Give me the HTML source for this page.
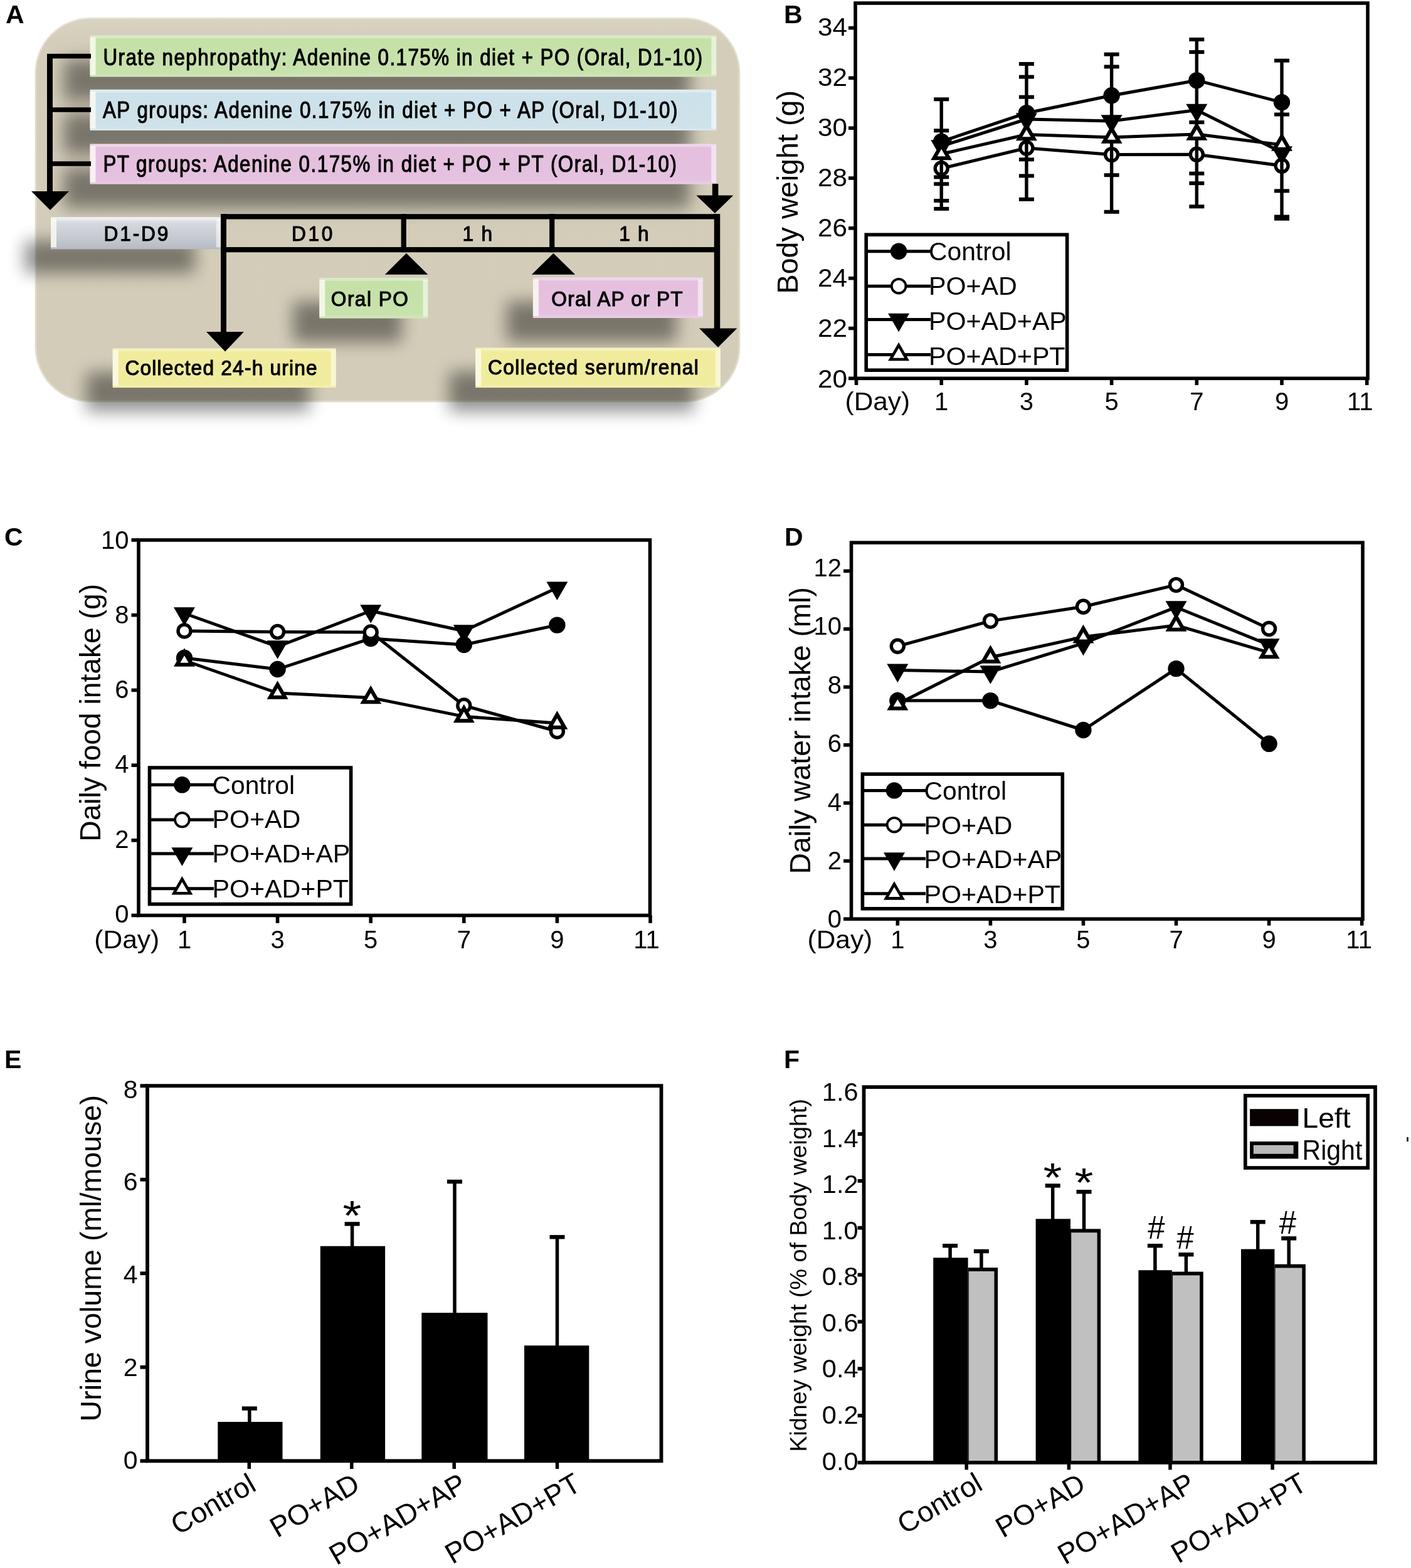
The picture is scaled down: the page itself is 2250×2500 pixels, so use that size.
<!DOCTYPE html>
<html><head><meta charset="utf-8"><title>Figure</title>
<style>html,body{margin:0;padding:0;background:#fff;width:2250px;height:2500px;overflow:hidden}svg{display:block}</style>
</head><body>
<svg width="2250" height="2500" viewBox="0 0 2250 2500" font-family='"Liberation Sans", Arial, Helvetica, sans-serif'>
<rect x="0" y="0" width="2250" height="2500" fill="#fff"/>
<defs>
<filter id="shA" filterUnits="userSpaceOnUse" x="0" y="0" width="1250" height="720">
 <feGaussianBlur in="SourceAlpha" stdDeviation="13.5"/>
 <feOffset dx="-42" dy="38" result="o"/>
 <feComponentTransfer><feFuncA type="linear" slope="0.43"/></feComponentTransfer>
</filter>
<filter id="shR" filterUnits="userSpaceOnUse" x="0" y="0" width="1250" height="720">
 <feGaussianBlur in="SourceAlpha" stdDeviation="9"/>
 <feOffset dx="6" dy="14"/>
 <feComponentTransfer><feFuncA type="linear" slope="0.35"/></feComponentTransfer>
</filter>
<linearGradient id="gGreen" x1="0" y1="0" x2="0" y2="1">
 <stop offset="0" stop-color="#d3e6bf"/><stop offset="0.09" stop-color="#c4e1a7"/><stop offset="0.9" stop-color="#c8e2ad"/><stop offset="1" stop-color="#d2e7bc"/>
</linearGradient>
<linearGradient id="gBlue" x1="0" y1="0" x2="0" y2="1">
 <stop offset="0" stop-color="#dbe8ee"/><stop offset="0.09" stop-color="#cce1ea"/><stop offset="0.9" stop-color="#cfe2ea"/><stop offset="1" stop-color="#d9e8ee"/>
</linearGradient>
<linearGradient id="gPink" x1="0" y1="0" x2="0" y2="1">
 <stop offset="0" stop-color="#ecd3ea"/><stop offset="0.09" stop-color="#e4bfde"/><stop offset="0.9" stop-color="#e5c2df"/><stop offset="1" stop-color="#ebcfe7"/>
</linearGradient>
<linearGradient id="gYellow" x1="0" y1="0" x2="0" y2="1">
 <stop offset="0" stop-color="#f4f1b2"/><stop offset="0.09" stop-color="#f1ec9c"/><stop offset="0.9" stop-color="#f0ec9e"/><stop offset="1" stop-color="#f3f0ae"/>
</linearGradient>
<linearGradient id="gGray" x1="0" y1="0" x2="0" y2="1">
 <stop offset="0" stop-color="#eef0f3"/><stop offset="0.18" stop-color="#d6d9df"/><stop offset="0.7" stop-color="#c3c7cf"/><stop offset="1" stop-color="#b6bac3"/>
</linearGradient>
<linearGradient id="gBg" x1="0" y1="0" x2="0" y2="1">
 <stop offset="0" stop-color="#d9d3c3"/><stop offset="0.06" stop-color="#d4cdba"/><stop offset="1" stop-color="#d3ccb9"/>
</linearGradient>
</defs>
<rect x="56" y="29" width="1124" height="612" rx="88" ry="88" fill="url(#gBg)"/>
<rect x="57" y="29" width="1122" height="611" rx="87" ry="87" fill="none" stroke="#e6e1d3" stroke-width="3" opacity="0.7"/>
<rect x="143.5" y="56.5" width="998.8" height="66" fill="#000" filter="url(#shA)"/>
<rect x="143.5" y="142.8" width="998.8" height="65.2" fill="#000" filter="url(#shA)"/>
<rect x="143.5" y="229.5" width="998.8" height="64.1" fill="#000" filter="url(#shA)"/>
<rect x="81" y="346.2" width="271.7" height="51.1" fill="#000" filter="url(#shA)"/>
<rect x="509.3" y="443" width="173.1" height="64.6" fill="#000" filter="url(#shA)"/>
<rect x="849.9" y="442.4" width="271" height="64.6" fill="#000" filter="url(#shA)"/>
<rect x="179.7" y="555.5" width="356" height="62.6" fill="#000" filter="url(#shA)"/>
<rect x="758.2" y="554.5" width="390.7" height="63.6" fill="#000" filter="url(#shA)"/>
<rect x="143.5" y="56.5" width="998.8" height="66" fill="url(#gGreen)"/>
<rect x="143.5" y="56.5" width="998.8" height="5" fill="#ffffff" opacity="0.22"/>
<rect x="143.5" y="59.5" width="9" height="60" fill="#fbfcf2" opacity="0.8"/>
<rect x="1134.3" y="59.5" width="8" height="60" fill="#ffffff" opacity="0.55"/>
<rect x="143.5" y="142.8" width="998.8" height="65.2" fill="url(#gBlue)"/>
<rect x="143.5" y="142.8" width="998.8" height="5" fill="#ffffff" opacity="0.22"/>
<rect x="143.5" y="145.8" width="9" height="59.2" fill="#fbfcf2" opacity="0.8"/>
<rect x="1134.3" y="145.8" width="8" height="59.2" fill="#ffffff" opacity="0.55"/>
<rect x="143.5" y="229.5" width="998.8" height="64.1" fill="url(#gPink)"/>
<rect x="143.5" y="229.5" width="998.8" height="5" fill="#ffffff" opacity="0.22"/>
<rect x="143.5" y="232.5" width="9" height="58.1" fill="#fbfcf2" opacity="0.8"/>
<rect x="1134.3" y="232.5" width="8" height="58.1" fill="#ffffff" opacity="0.55"/>
<rect x="81" y="346.2" width="271.7" height="51.1" fill="url(#gGray)"/>
<rect x="81" y="346.2" width="271.7" height="5" fill="#ffffff" opacity="0.22"/>
<rect x="81" y="349.2" width="9" height="45.1" fill="#fbfcf2" opacity="0.8"/>
<rect x="344.7" y="349.2" width="8" height="45.1" fill="#ffffff" opacity="0.55"/>
<rect x="509.3" y="443" width="173.1" height="64.6" fill="url(#gGreen)"/>
<rect x="509.3" y="443" width="173.1" height="5" fill="#ffffff" opacity="0.22"/>
<rect x="509.3" y="446" width="9" height="58.6" fill="#fbfcf2" opacity="0.8"/>
<rect x="674.4" y="446" width="8" height="58.6" fill="#ffffff" opacity="0.55"/>
<rect x="849.9" y="442.4" width="271" height="64.6" fill="url(#gPink)"/>
<rect x="849.9" y="442.4" width="271" height="5" fill="#ffffff" opacity="0.22"/>
<rect x="849.9" y="445.4" width="9" height="58.6" fill="#fbfcf2" opacity="0.8"/>
<rect x="1112.9" y="445.4" width="8" height="58.6" fill="#ffffff" opacity="0.55"/>
<rect x="179.7" y="555.5" width="356" height="62.6" fill="url(#gYellow)"/>
<rect x="179.7" y="555.5" width="356" height="5" fill="#ffffff" opacity="0.22"/>
<rect x="179.7" y="558.5" width="9" height="56.6" fill="#fbfcf2" opacity="0.8"/>
<rect x="527.7" y="558.5" width="8" height="56.6" fill="#ffffff" opacity="0.55"/>
<rect x="758.2" y="554.5" width="390.7" height="63.6" fill="url(#gYellow)"/>
<rect x="758.2" y="554.5" width="390.7" height="5" fill="#ffffff" opacity="0.22"/>
<rect x="758.2" y="557.5" width="9" height="57.6" fill="#fbfcf2" opacity="0.8"/>
<rect x="1140.9" y="557.5" width="8" height="57.6" fill="#ffffff" opacity="0.55"/>
<line x1="79.5" y1="86" x2="79.5" y2="306" stroke="#000" stroke-width="9" />
<line x1="75" y1="89.5" x2="145" y2="89.5" stroke="#000" stroke-width="7.5" />
<line x1="79.5" y1="175" x2="145" y2="175" stroke="#000" stroke-width="7.5" />
<line x1="79.5" y1="261" x2="145" y2="261" stroke="#000" stroke-width="7.5" />
<polygon points="50,305 110,305 80,335" fill="#000" />
<line x1="1140.6" y1="293" x2="1140.6" y2="312" stroke="#000" stroke-width="9.5" />
<polygon points="1110.3,311.5 1169.3,311.5 1140,340" fill="#000" />
<line x1="352" y1="345.3" x2="1147" y2="345.3" stroke="#000" stroke-width="8.2" />
<line x1="352" y1="398.1" x2="1147" y2="398.1" stroke="#000" stroke-width="8.2" />
<line x1="356.5" y1="341.2" x2="356.5" y2="531" stroke="#000" stroke-width="9" />
<line x1="643.7" y1="341.2" x2="643.7" y2="402.2" stroke="#000" stroke-width="8.2" />
<line x1="880.2" y1="341.2" x2="880.2" y2="402.2" stroke="#000" stroke-width="8.2" />
<line x1="1143.5" y1="341.2" x2="1143.5" y2="526" stroke="#000" stroke-width="9.5" />
<polygon points="329,529 389,529 359,560.4" fill="#000" />
<polygon points="1115,523.5 1175.3,523.5 1145,553.8" fill="#000" />
<polygon points="613.8,437.8 682.4,437.8 648,403.8" fill="#000" />
<polygon points="847.9,437.8 917.1,437.8 882.5,403.8" fill="#000" />
<text x="0" y="0" font-size="36" textLength="1098.39" lengthAdjust="spacing" transform="translate(164.5,104) scale(0.87,1)" stroke="#000" stroke-width="1.1">Urate nephropathy: Adenine 0.175% in diet + PO (Oral, D1-10)</text>
<text x="0" y="0" font-size="36" textLength="1053.56" lengthAdjust="spacing" transform="translate(163.9,188) scale(0.87,1)" stroke="#000" stroke-width="1.1">AP groups: Adenine 0.175% in diet + PO + AP (Oral, D1-10)</text>
<text x="0" y="0" font-size="36" textLength="1051.15" lengthAdjust="spacing" transform="translate(164.4,273.6) scale(0.87,1)" stroke="#000" stroke-width="1.1">PT groups: Adenine 0.175% in diet + PO + PT (Oral, D1-10)</text>
<text x="0" y="0" font-size="33" textLength="107.19" lengthAdjust="spacing" transform="translate(165.5,384) scale(0.96,1)" stroke="#000" stroke-width="1.1">D1-D9</text>
<text x="0" y="0" font-size="33" textLength="68.33" lengthAdjust="spacing" transform="translate(464.9,384) scale(0.96,1)" stroke="#000" stroke-width="1.1">D10</text>
<text x="0" y="0" font-size="33" textLength="49.69" lengthAdjust="spacing" transform="translate(737.5,384) scale(0.96,1)" stroke="#000" stroke-width="1.1">1 h</text>
<text x="0" y="0" font-size="33" textLength="49.48" lengthAdjust="spacing" transform="translate(987.2,384) scale(0.96,1)" stroke="#000" stroke-width="1.1">1 h</text>
<text x="0" y="0" font-size="33" textLength="128.23" lengthAdjust="spacing" transform="translate(527.8,487.8) scale(0.96,1)" stroke="#000" stroke-width="1.1">Oral PO</text>
<text x="0" y="0" font-size="33" textLength="218.02" lengthAdjust="spacing" transform="translate(879.3,487.9) scale(0.96,1)" stroke="#000" stroke-width="1.1">Oral AP or PT</text>
<text x="0" y="0" font-size="33" textLength="319.06" lengthAdjust="spacing" transform="translate(199.4,598.4) scale(0.96,1)" stroke="#000" stroke-width="1.1">Collected 24-h urine</text>
<text x="0" y="0" font-size="33" textLength="349.69" lengthAdjust="spacing" transform="translate(778.1,596.7) scale(0.96,1)" stroke="#000" stroke-width="1.1">Collected serum/renal</text>
<text x="9" y="37" font-size="41" font-weight="bold">A</text>
<polyline points="1501.2,225.6 1636.9,180.2 1772.6,152.3 1908.3,128.2 2044,163.1" fill="none" stroke="#000" stroke-width="5" stroke-linejoin="round"/>
<polyline points="1501.2,268.6 1636.9,236 1772.6,246.6 1908.3,246.2 2044,264.2" fill="none" stroke="#000" stroke-width="5" stroke-linejoin="round"/>
<polyline points="1501.2,233 1636.9,190 1772.6,193 1908.3,175.5 2044,243" fill="none" stroke="#000" stroke-width="5" stroke-linejoin="round"/>
<polyline points="1501.2,245.5 1636.9,214.5 1772.6,218.9 1908.3,214 2044,231" fill="none" stroke="#000" stroke-width="5" stroke-linejoin="round"/>
<circle cx="1501.2" cy="225.6" r="13.2" fill="#000"/>
<circle cx="1636.9" cy="180.2" r="13.2" fill="#000"/>
<circle cx="1772.6" cy="152.3" r="13.2" fill="#000"/>
<circle cx="1908.3" cy="128.2" r="13.2" fill="#000"/>
<circle cx="2044" cy="163.1" r="13.2" fill="#000"/>
<circle cx="1501.2" cy="268.6" r="10" fill="#fff" stroke="#000" stroke-width="5.4"/>
<circle cx="1636.9" cy="236" r="10" fill="#fff" stroke="#000" stroke-width="5.4"/>
<circle cx="1772.6" cy="246.6" r="10" fill="#fff" stroke="#000" stroke-width="5.4"/>
<circle cx="1908.3" cy="246.2" r="10" fill="#fff" stroke="#000" stroke-width="5.4"/>
<circle cx="2044" cy="264.2" r="10" fill="#fff" stroke="#000" stroke-width="5.4"/>
<line x1="1501.2" y1="158.3" x2="1501.2" y2="332.9" stroke="#000" stroke-width="5.4" />
<rect x="1489.2" y="155.3" width="24" height="6" fill="#000" />
<rect x="1489.2" y="205.2" width="24" height="6" fill="#000" />
<rect x="1489.2" y="279.4" width="24" height="6" fill="#000" />
<rect x="1489.2" y="290.3" width="24" height="6" fill="#000" />
<rect x="1489.2" y="317" width="24" height="6" fill="#000" />
<rect x="1489.2" y="329.9" width="24" height="6" fill="#000" />
<line x1="1636.9" y1="101.9" x2="1636.9" y2="317.8" stroke="#000" stroke-width="5.4" />
<rect x="1624.9" y="98.9" width="24" height="6" fill="#000" />
<rect x="1624.9" y="119.6" width="24" height="6" fill="#000" />
<rect x="1624.9" y="151.7" width="24" height="6" fill="#000" />
<rect x="1624.9" y="251.3" width="24" height="6" fill="#000" />
<rect x="1624.9" y="277.4" width="24" height="6" fill="#000" />
<rect x="1624.9" y="314.8" width="24" height="6" fill="#000" />
<line x1="1772.6" y1="86.6" x2="1772.6" y2="337.8" stroke="#000" stroke-width="5.4" />
<rect x="1760.6" y="83.6" width="24" height="6" fill="#000" />
<rect x="1760.6" y="103.4" width="24" height="6" fill="#000" />
<rect x="1760.6" y="276.2" width="24" height="6" fill="#000" />
<rect x="1760.6" y="334.8" width="24" height="6" fill="#000" />
<line x1="1908.3" y1="62.9" x2="1908.3" y2="329.3" stroke="#000" stroke-width="5.4" />
<rect x="1896.3" y="59.9" width="24" height="6" fill="#000" />
<rect x="1896.3" y="80" width="24" height="6" fill="#000" />
<rect x="1896.3" y="192" width="24" height="6" fill="#000" />
<rect x="1896.3" y="273.6" width="24" height="6" fill="#000" />
<rect x="1896.3" y="289.2" width="24" height="6" fill="#000" />
<rect x="1896.3" y="326.3" width="24" height="6" fill="#000" />
<line x1="2044" y1="96.6" x2="2044" y2="348.7" stroke="#000" stroke-width="5.4" />
<rect x="2032" y="93.6" width="24" height="6" fill="#000" />
<rect x="2032" y="179.5" width="24" height="6" fill="#000" />
<rect x="2032" y="301.4" width="24" height="6" fill="#000" />
<rect x="2032" y="342.5" width="24" height="6" fill="#000" />
<rect x="2032" y="345.7" width="24" height="6" fill="#000" />
<polygon points="1484.2,223.13 1518.2,223.13 1501.2,252.73" fill="#000" />
<polygon points="1619.9,180.13 1653.9,180.13 1636.9,209.73" fill="#000" />
<polygon points="1755.6,183.13 1789.6,183.13 1772.6,212.73" fill="#000" />
<polygon points="1891.3,165.63 1925.3,165.63 1908.3,195.23" fill="#000" />
<polygon points="2027,233.13 2061,233.13 2044,262.73" fill="#000" />
<polygon points="1484.2,255.37 1518.2,255.37 1501.2,225.77" fill="#000" />
<polygon points="1494.57,249.37 1507.83,249.37 1501.2,237.81" fill="#fff" />
<polygon points="1619.9,224.37 1653.9,224.37 1636.9,194.77" fill="#000" />
<polygon points="1630.27,218.37 1643.53,218.37 1636.9,206.81" fill="#fff" />
<polygon points="1755.6,228.77 1789.6,228.77 1772.6,199.17" fill="#000" />
<polygon points="1765.97,222.77 1779.23,222.77 1772.6,211.21" fill="#fff" />
<polygon points="1891.3,223.87 1925.3,223.87 1908.3,194.27" fill="#000" />
<polygon points="1901.67,217.87 1914.93,217.87 1908.3,206.31" fill="#fff" />
<polygon points="2027,240.87 2061,240.87 2044,211.27" fill="#000" />
<polygon points="2037.37,234.87 2050.63,234.87 2044,223.31" fill="#fff" />
<rect x="1364" y="5" width="817" height="598.3" fill="none" stroke="#000" stroke-width="5.6"/>
<line x1="1353" y1="603.3" x2="1364" y2="603.3" stroke="#000" stroke-width="5.6" />
<text x="1351" y="617.5" font-size="40" text-anchor="end" textLength="47" lengthAdjust="spacingAndGlyphs">20</text>
<line x1="1353" y1="523.48" x2="1364" y2="523.48" stroke="#000" stroke-width="5.6" />
<text x="1351" y="537.44" font-size="40" text-anchor="end" textLength="47" lengthAdjust="spacingAndGlyphs">22</text>
<line x1="1353" y1="443.66" x2="1364" y2="443.66" stroke="#000" stroke-width="5.6" />
<text x="1351" y="457.38" font-size="40" text-anchor="end" textLength="47" lengthAdjust="spacingAndGlyphs">24</text>
<line x1="1353" y1="363.84" x2="1364" y2="363.84" stroke="#000" stroke-width="5.6" />
<text x="1351" y="377.32" font-size="40" text-anchor="end" textLength="47" lengthAdjust="spacingAndGlyphs">26</text>
<line x1="1353" y1="284.02" x2="1364" y2="284.02" stroke="#000" stroke-width="5.6" />
<text x="1351" y="297.26" font-size="40" text-anchor="end" textLength="47" lengthAdjust="spacingAndGlyphs">28</text>
<line x1="1353" y1="204.2" x2="1364" y2="204.2" stroke="#000" stroke-width="5.6" />
<text x="1351" y="217.2" font-size="40" text-anchor="end" textLength="47" lengthAdjust="spacingAndGlyphs">30</text>
<line x1="1353" y1="124.38" x2="1364" y2="124.38" stroke="#000" stroke-width="5.6" />
<text x="1351" y="137.14" font-size="40" text-anchor="end" textLength="47" lengthAdjust="spacingAndGlyphs">32</text>
<line x1="1353" y1="44.56" x2="1364" y2="44.56" stroke="#000" stroke-width="5.6" />
<text x="1351" y="57.08" font-size="40" text-anchor="end" textLength="47" lengthAdjust="spacingAndGlyphs">34</text>
<line x1="1365.5" y1="603.3" x2="1365.5" y2="614" stroke="#000" stroke-width="5.6" />
<line x1="1501.2" y1="603.3" x2="1501.2" y2="614" stroke="#000" stroke-width="5.6" />
<text x="1501.2" y="654" font-size="40" text-anchor="middle">1</text>
<line x1="1636.9" y1="603.3" x2="1636.9" y2="614" stroke="#000" stroke-width="5.6" />
<text x="1636.9" y="654" font-size="40" text-anchor="middle">3</text>
<line x1="1772.6" y1="603.3" x2="1772.6" y2="614" stroke="#000" stroke-width="5.6" />
<text x="1772.6" y="654" font-size="40" text-anchor="middle">5</text>
<line x1="1908.3" y1="603.3" x2="1908.3" y2="614" stroke="#000" stroke-width="5.6" />
<text x="1908.3" y="654" font-size="40" text-anchor="middle">7</text>
<line x1="2044" y1="603.3" x2="2044" y2="614" stroke="#000" stroke-width="5.6" />
<text x="2044" y="654" font-size="40" text-anchor="middle">9</text>
<line x1="2179.7" y1="603.3" x2="2179.7" y2="614" stroke="#000" stroke-width="5.6" />
<text x="2168.7" y="654" font-size="40" text-anchor="middle">11</text>
<text x="1347.6" y="654" font-size="40" textLength="103.4" lengthAdjust="spacingAndGlyphs">(Day)</text>
<text x="0" y="0" font-size="46" text-anchor="middle" textLength="324.7" lengthAdjust="spacingAndGlyphs" transform="translate(1272.3,306.2) rotate(-90)">Body weight (g)</text>
<text x="1250" y="37" font-size="41" font-weight="bold">B</text>
<rect x="1381.2" y="374.2" width="320.4" height="216" fill="#fff" stroke="#000" stroke-width="5.6"/>
<line x1="1381.2" y1="400.7" x2="1484" y2="400.7" stroke="#000" stroke-width="5" />
<circle cx="1433.1" cy="400.7" r="13.2" fill="#000"/>
<text x="1481" y="414.5" font-size="40" textLength="131.5" lengthAdjust="spacingAndGlyphs">Control</text>
<line x1="1381.2" y1="456.2" x2="1484" y2="456.2" stroke="#000" stroke-width="5" />
<circle cx="1433.1" cy="456.2" r="11.3" fill="#fff" stroke="#000" stroke-width="3.8"/>
<text x="1481" y="470.2" font-size="40" textLength="140.82" lengthAdjust="spacingAndGlyphs">PO+AD</text>
<line x1="1381.2" y1="509.5" x2="1484" y2="509.5" stroke="#000" stroke-width="5" />
<polygon points="1416.1,499.63 1450.1,499.63 1433.1,529.23" fill="#000" />
<text x="1481" y="526.3" font-size="40" textLength="219.84" lengthAdjust="spacingAndGlyphs">PO+AD+AP</text>
<line x1="1381.2" y1="565.5" x2="1484" y2="565.5" stroke="#000" stroke-width="5" />
<polygon points="1416.1,575.37 1450.1,575.37 1433.1,545.77" fill="#000" />
<polygon points="1424.05,570.77 1442.15,570.77 1433.1,555" fill="#fff" />
<text x="1481" y="582.3" font-size="40" textLength="217.54" lengthAdjust="spacingAndGlyphs">PO+AD+PT</text>
<polyline points="294,1049 442.6,1067 591.2,1018 739.8,1028 888.4,996.6" fill="none" stroke="#000" stroke-width="5" stroke-linejoin="round"/>
<polyline points="294,1006 442.6,1007.4 591.2,1008 739.8,1125 888.4,1166" fill="none" stroke="#000" stroke-width="5" stroke-linejoin="round"/>
<polyline points="294,978 442.6,1031 591.2,974 739.8,1006 888.4,937.3" fill="none" stroke="#000" stroke-width="5" stroke-linejoin="round"/>
<polyline points="294,1053 442.6,1105 591.2,1112.4 739.8,1142.4 888.4,1153" fill="none" stroke="#000" stroke-width="5" stroke-linejoin="round"/>
<circle cx="294" cy="1049" r="13.2" fill="#000"/>
<circle cx="442.6" cy="1067" r="13.2" fill="#000"/>
<circle cx="591.2" cy="1018" r="13.2" fill="#000"/>
<circle cx="739.8" cy="1028" r="13.2" fill="#000"/>
<circle cx="888.4" cy="996.6" r="13.2" fill="#000"/>
<circle cx="294" cy="1006" r="10" fill="#fff" stroke="#000" stroke-width="5.4"/>
<circle cx="442.6" cy="1007.4" r="10" fill="#fff" stroke="#000" stroke-width="5.4"/>
<circle cx="591.2" cy="1008" r="10" fill="#fff" stroke="#000" stroke-width="5.4"/>
<circle cx="739.8" cy="1125" r="10" fill="#fff" stroke="#000" stroke-width="5.4"/>
<circle cx="888.4" cy="1166" r="10" fill="#fff" stroke="#000" stroke-width="5.4"/>
<polygon points="277,968.13 311,968.13 294,997.73" fill="#000" />
<polygon points="425.6,1021.13 459.6,1021.13 442.6,1050.73" fill="#000" />
<polygon points="574.2,964.13 608.2,964.13 591.2,993.73" fill="#000" />
<polygon points="722.8,996.13 756.8,996.13 739.8,1025.73" fill="#000" />
<polygon points="871.4,927.43 905.4,927.43 888.4,957.03" fill="#000" />
<polygon points="277,1062.87 311,1062.87 294,1033.27" fill="#000" />
<polygon points="287.37,1056.87 300.63,1056.87 294,1045.31" fill="#fff" />
<polygon points="425.6,1114.87 459.6,1114.87 442.6,1085.27" fill="#000" />
<polygon points="435.97,1108.87 449.23,1108.87 442.6,1097.31" fill="#fff" />
<polygon points="574.2,1122.27 608.2,1122.27 591.2,1092.67" fill="#000" />
<polygon points="584.57,1116.27 597.83,1116.27 591.2,1104.71" fill="#fff" />
<polygon points="722.8,1152.27 756.8,1152.27 739.8,1122.67" fill="#000" />
<polygon points="733.17,1146.27 746.43,1146.27 739.8,1134.71" fill="#fff" />
<polygon points="871.4,1162.87 905.4,1162.87 888.4,1133.27" fill="#000" />
<polygon points="881.77,1156.87 895.03,1156.87 888.4,1145.31" fill="#fff" />
<rect x="221" y="861" width="815.5" height="598.5" fill="none" stroke="#000" stroke-width="5.6"/>
<line x1="209.5" y1="1459.5" x2="221" y2="1459.5" stroke="#000" stroke-width="5.6" />
<text x="205.5" y="1470.9" font-size="40" text-anchor="end">0</text>
<line x1="209.5" y1="1339.8" x2="221" y2="1339.8" stroke="#000" stroke-width="5.6" />
<text x="205.5" y="1351.66" font-size="40" text-anchor="end">2</text>
<line x1="209.5" y1="1220.1" x2="221" y2="1220.1" stroke="#000" stroke-width="5.6" />
<text x="205.5" y="1232.42" font-size="40" text-anchor="end">4</text>
<line x1="209.5" y1="1100.4" x2="221" y2="1100.4" stroke="#000" stroke-width="5.6" />
<text x="205.5" y="1113.18" font-size="40" text-anchor="end">6</text>
<line x1="209.5" y1="980.7" x2="221" y2="980.7" stroke="#000" stroke-width="5.6" />
<text x="205.5" y="993.94" font-size="40" text-anchor="end">8</text>
<line x1="209.5" y1="861" x2="221" y2="861" stroke="#000" stroke-width="5.6" />
<text x="205.5" y="874.7" font-size="40" text-anchor="end">10</text>
<line x1="294" y1="1459.5" x2="294" y2="1471.8" stroke="#000" stroke-width="5.6" />
<text x="294" y="1512" font-size="40" text-anchor="middle">1</text>
<line x1="442.6" y1="1459.5" x2="442.6" y2="1471.8" stroke="#000" stroke-width="5.6" />
<text x="442.6" y="1512" font-size="40" text-anchor="middle">3</text>
<line x1="591.2" y1="1459.5" x2="591.2" y2="1471.8" stroke="#000" stroke-width="5.6" />
<text x="591.2" y="1512" font-size="40" text-anchor="middle">5</text>
<line x1="739.8" y1="1459.5" x2="739.8" y2="1471.8" stroke="#000" stroke-width="5.6" />
<text x="739.8" y="1512" font-size="40" text-anchor="middle">7</text>
<line x1="888.4" y1="1459.5" x2="888.4" y2="1471.8" stroke="#000" stroke-width="5.6" />
<text x="888.4" y="1512" font-size="40" text-anchor="middle">9</text>
<line x1="1037" y1="1459.5" x2="1037" y2="1471.8" stroke="#000" stroke-width="5.6" />
<text x="1031" y="1512" font-size="40" text-anchor="middle">11</text>
<text x="150.3" y="1512" font-size="40" textLength="103.9" lengthAdjust="spacingAndGlyphs">(Day)</text>
<text x="0" y="0" font-size="45.5" text-anchor="middle" textLength="410.8" lengthAdjust="spacingAndGlyphs" transform="translate(159.9,1136.3) rotate(-90)">Daily food intake (g)</text>
<text x="7" y="870.3" font-size="41" font-weight="bold">C</text>
<rect x="238.5" y="1224" width="321.1" height="217.5" fill="#fff" stroke="#000" stroke-width="5.6"/>
<line x1="238.5" y1="1251.3" x2="341" y2="1251.3" stroke="#000" stroke-width="5" />
<circle cx="290.4" cy="1251.3" r="13.2" fill="#000"/>
<text x="338.5" y="1266.2" font-size="40" textLength="131.5" lengthAdjust="spacingAndGlyphs">Control</text>
<line x1="238.5" y1="1307.1" x2="341" y2="1307.1" stroke="#000" stroke-width="5" />
<circle cx="290.4" cy="1307.1" r="11.3" fill="#fff" stroke="#000" stroke-width="3.8"/>
<text x="338.5" y="1320" font-size="40" textLength="140.82" lengthAdjust="spacingAndGlyphs">PO+AD</text>
<line x1="238.5" y1="1361" x2="341" y2="1361" stroke="#000" stroke-width="5" />
<polygon points="273.4,1351.13 307.4,1351.13 290.4,1380.73" fill="#000" />
<text x="338.5" y="1375.4" font-size="40" textLength="219.84" lengthAdjust="spacingAndGlyphs">PO+AD+AP</text>
<line x1="238.5" y1="1416.7" x2="341" y2="1416.7" stroke="#000" stroke-width="5" />
<polygon points="273.4,1426.57 307.4,1426.57 290.4,1396.97" fill="#000" />
<polygon points="281.35,1421.97 299.45,1421.97 290.4,1406.2" fill="#fff" />
<text x="338.5" y="1431.2" font-size="40" textLength="217.54" lengthAdjust="spacingAndGlyphs">PO+AD+PT</text>
<polyline points="1431.33,1117 1579.39,1117.1 1727.45,1164 1875.51,1066.1 2023.57,1185.8" fill="none" stroke="#000" stroke-width="5" stroke-linejoin="round"/>
<polyline points="1431.33,1030.3 1579.39,990.1 1727.45,967.2 1875.51,932.6 2023.57,1002.5" fill="none" stroke="#000" stroke-width="5" stroke-linejoin="round"/>
<polyline points="1431.33,1068.4 1579.39,1071.1 1727.45,1025.7 1875.51,968.2 2023.57,1028.2" fill="none" stroke="#000" stroke-width="5" stroke-linejoin="round"/>
<polyline points="1431.33,1122.6 1579.39,1048 1727.45,1015.6 1875.51,996.9 2023.57,1040.4" fill="none" stroke="#000" stroke-width="5" stroke-linejoin="round"/>
<circle cx="1431.33" cy="1117" r="13.2" fill="#000"/>
<circle cx="1579.39" cy="1117.1" r="13.2" fill="#000"/>
<circle cx="1727.45" cy="1164" r="13.2" fill="#000"/>
<circle cx="1875.51" cy="1066.1" r="13.2" fill="#000"/>
<circle cx="2023.57" cy="1185.8" r="13.2" fill="#000"/>
<circle cx="1431.33" cy="1030.3" r="10" fill="#fff" stroke="#000" stroke-width="5.4"/>
<circle cx="1579.39" cy="990.1" r="10" fill="#fff" stroke="#000" stroke-width="5.4"/>
<circle cx="1727.45" cy="967.2" r="10" fill="#fff" stroke="#000" stroke-width="5.4"/>
<circle cx="1875.51" cy="932.6" r="10" fill="#fff" stroke="#000" stroke-width="5.4"/>
<circle cx="2023.57" cy="1002.5" r="10" fill="#fff" stroke="#000" stroke-width="5.4"/>
<polygon points="1414.33,1058.53 1448.33,1058.53 1431.33,1088.13" fill="#000" />
<polygon points="1562.39,1061.23 1596.39,1061.23 1579.39,1090.83" fill="#000" />
<polygon points="1710.45,1015.83 1744.45,1015.83 1727.45,1045.43" fill="#000" />
<polygon points="1858.51,958.33 1892.51,958.33 1875.51,987.93" fill="#000" />
<polygon points="2006.57,1018.33 2040.57,1018.33 2023.57,1047.93" fill="#000" />
<polygon points="1414.33,1132.47 1448.33,1132.47 1431.33,1102.87" fill="#000" />
<polygon points="1424.7,1126.47 1437.96,1126.47 1431.33,1114.91" fill="#fff" />
<polygon points="1562.39,1057.87 1596.39,1057.87 1579.39,1028.27" fill="#000" />
<polygon points="1572.76,1051.87 1586.02,1051.87 1579.39,1040.31" fill="#fff" />
<polygon points="1710.45,1025.47 1744.45,1025.47 1727.45,995.87" fill="#000" />
<polygon points="1720.82,1019.47 1734.08,1019.47 1727.45,1007.91" fill="#fff" />
<polygon points="1858.51,1006.77 1892.51,1006.77 1875.51,977.17" fill="#000" />
<polygon points="1868.88,1000.77 1882.14,1000.77 1875.51,989.21" fill="#fff" />
<polygon points="2006.57,1050.27 2040.57,1050.27 2023.57,1020.67" fill="#000" />
<polygon points="2016.94,1044.27 2030.2,1044.27 2023.57,1032.71" fill="#fff" />
<rect x="1357.5" y="865.2" width="815.5" height="600" fill="none" stroke="#000" stroke-width="5.6"/>
<line x1="1345" y1="1465.2" x2="1357.5" y2="1465.2" stroke="#000" stroke-width="5.6" />
<text x="1342" y="1479.3" font-size="40" text-anchor="end">0</text>
<line x1="1345" y1="1372.74" x2="1357.5" y2="1372.74" stroke="#000" stroke-width="5.6" />
<text x="1342" y="1385.9" font-size="40" text-anchor="end">2</text>
<line x1="1345" y1="1280.28" x2="1357.5" y2="1280.28" stroke="#000" stroke-width="5.6" />
<text x="1342" y="1292.5" font-size="40" text-anchor="end">4</text>
<line x1="1345" y1="1187.82" x2="1357.5" y2="1187.82" stroke="#000" stroke-width="5.6" />
<text x="1342" y="1199.1" font-size="40" text-anchor="end">6</text>
<line x1="1345" y1="1095.36" x2="1357.5" y2="1095.36" stroke="#000" stroke-width="5.6" />
<text x="1342" y="1105.7" font-size="40" text-anchor="end">8</text>
<line x1="1345" y1="1002.9" x2="1357.5" y2="1002.9" stroke="#000" stroke-width="5.6" />
<text x="1342" y="1012.3" font-size="40" text-anchor="end">10</text>
<line x1="1345" y1="910.44" x2="1357.5" y2="910.44" stroke="#000" stroke-width="5.6" />
<text x="1342" y="918.9" font-size="40" text-anchor="end">12</text>
<line x1="1431.33" y1="1465.2" x2="1431.33" y2="1475.7" stroke="#000" stroke-width="5.6" />
<text x="1431.33" y="1511.5" font-size="40" text-anchor="middle">1</text>
<line x1="1579.39" y1="1465.2" x2="1579.39" y2="1475.7" stroke="#000" stroke-width="5.6" />
<text x="1579.39" y="1511.5" font-size="40" text-anchor="middle">3</text>
<line x1="1727.45" y1="1465.2" x2="1727.45" y2="1475.7" stroke="#000" stroke-width="5.6" />
<text x="1727.45" y="1511.5" font-size="40" text-anchor="middle">5</text>
<line x1="1875.51" y1="1465.2" x2="1875.51" y2="1475.7" stroke="#000" stroke-width="5.6" />
<text x="1875.51" y="1511.5" font-size="40" text-anchor="middle">7</text>
<line x1="2023.57" y1="1465.2" x2="2023.57" y2="1475.7" stroke="#000" stroke-width="5.6" />
<text x="2023.57" y="1511.5" font-size="40" text-anchor="middle">9</text>
<line x1="2171.63" y1="1465.2" x2="2171.63" y2="1475.7" stroke="#000" stroke-width="5.6" />
<text x="2167.13" y="1511.5" font-size="40" text-anchor="middle">11</text>
<text x="1287.6" y="1511.5" font-size="40" textLength="103.6" lengthAdjust="spacingAndGlyphs">(Day)</text>
<text x="0" y="0" font-size="45.5" text-anchor="middle" textLength="457.4" lengthAdjust="spacingAndGlyphs" transform="translate(1292,1164.7) rotate(-90)">Daily water intake (ml)</text>
<text x="1251" y="870.3" font-size="41" font-weight="bold">D</text>
<rect x="1375.4" y="1234.2" width="318.9" height="214.6" fill="#fff" stroke="#000" stroke-width="5.6"/>
<line x1="1375.4" y1="1260.4" x2="1476" y2="1260.4" stroke="#000" stroke-width="5" />
<circle cx="1426" cy="1260.4" r="13.2" fill="#000"/>
<text x="1473.5" y="1274.8" font-size="40" textLength="131.5" lengthAdjust="spacingAndGlyphs">Control</text>
<line x1="1375.4" y1="1315.2" x2="1476" y2="1315.2" stroke="#000" stroke-width="5" />
<circle cx="1426" cy="1315.2" r="11.3" fill="#fff" stroke="#000" stroke-width="3.8"/>
<text x="1473.5" y="1330" font-size="40" textLength="140.82" lengthAdjust="spacingAndGlyphs">PO+AD</text>
<line x1="1375.4" y1="1369" x2="1476" y2="1369" stroke="#000" stroke-width="5" />
<polygon points="1409,1359.13 1443,1359.13 1426,1388.73" fill="#000" />
<text x="1473.5" y="1383.5" font-size="40" textLength="219.84" lengthAdjust="spacingAndGlyphs">PO+AD+AP</text>
<line x1="1375.4" y1="1424.8" x2="1476" y2="1424.8" stroke="#000" stroke-width="5" />
<polygon points="1409,1434.67 1443,1434.67 1426,1405.07" fill="#000" />
<polygon points="1416.95,1430.07 1435.05,1430.07 1426,1414.3" fill="#fff" />
<text x="1473.5" y="1439.6" font-size="40" textLength="217.54" lengthAdjust="spacingAndGlyphs">PO+AD+PT</text>
<rect x="347.3" y="2267" width="103.2" height="62.3" fill="#000" />
<line x1="397.8" y1="2245.6" x2="397.8" y2="2269" stroke="#000" stroke-width="5.5" />
<rect x="385.8" y="2242.4" width="24" height="6.4" fill="#000" />
<rect x="510.8" y="1986.8" width="103.3" height="342.5" fill="#000" />
<line x1="561.6" y1="1951.4" x2="561.6" y2="1988.8" stroke="#000" stroke-width="5.5" />
<rect x="549.6" y="1948.2" width="24" height="6.4" fill="#000" />
<rect x="672.3" y="2093.1" width="105.2" height="236.2" fill="#000" />
<line x1="725" y1="1884" x2="725" y2="2095.1" stroke="#000" stroke-width="5.5" />
<rect x="713" y="1880.8" width="24" height="6.4" fill="#000" />
<rect x="836" y="2145.3" width="103.3" height="184" fill="#000" />
<line x1="888.5" y1="1972.3" x2="888.5" y2="2147.3" stroke="#000" stroke-width="5.5" />
<rect x="876.5" y="1969.1" width="24" height="6.4" fill="#000" />
<rect x="235" y="1731.2" width="819.5" height="598.1" fill="none" stroke="#000" stroke-width="5.8"/>
<line x1="223.5" y1="2329.3" x2="235" y2="2329.3" stroke="#000" stroke-width="5.8" />
<text x="219.5" y="2341.7" font-size="41" text-anchor="end">0</text>
<line x1="223.5" y1="2179.78" x2="235" y2="2179.78" stroke="#000" stroke-width="5.8" />
<text x="219.5" y="2193.9" font-size="41" text-anchor="end">2</text>
<line x1="223.5" y1="2030.26" x2="235" y2="2030.26" stroke="#000" stroke-width="5.8" />
<text x="219.5" y="2046.1" font-size="41" text-anchor="end">4</text>
<line x1="223.5" y1="1880.74" x2="235" y2="1880.74" stroke="#000" stroke-width="5.8" />
<text x="219.5" y="1898.3" font-size="41" text-anchor="end">6</text>
<line x1="223.5" y1="1731.22" x2="235" y2="1731.22" stroke="#000" stroke-width="5.8" />
<text x="219.5" y="1750.5" font-size="41" text-anchor="end">8</text>
<line x1="397.3" y1="2329.3" x2="397.3" y2="2342" stroke="#000" stroke-width="5.5" />
<line x1="560.8" y1="2329.3" x2="560.8" y2="2342" stroke="#000" stroke-width="5.5" />
<line x1="724.2" y1="2329.3" x2="724.2" y2="2342" stroke="#000" stroke-width="5.5" />
<line x1="888.5" y1="2329.3" x2="888.5" y2="2342" stroke="#000" stroke-width="5.5" />
<text x="411" y="2375" font-size="45.5" text-anchor="end" transform="rotate(-30 411 2375)">Control</text>
<text x="576.7" y="2374.7" font-size="45.5" text-anchor="end" transform="rotate(-30 576.7 2374.7)">PO+AD</text>
<text x="746.8" y="2374.8" font-size="45.5" text-anchor="end" transform="rotate(-30 746.8 2374.8)">PO+AD+AP</text>
<text x="929.4" y="2374.4" font-size="45.5" text-anchor="end" transform="rotate(-30 929.4 2374.4)">PO+AD+PT</text>
<text x="561.5" y="1960.5" font-size="67" text-anchor="middle" textLength="29.8" lengthAdjust="spacingAndGlyphs">*</text>
<text x="0" y="0" font-size="46" text-anchor="middle" textLength="520.4" lengthAdjust="spacingAndGlyphs" transform="translate(160.8,2006.3) rotate(-90)">Urine volume (ml/mouse)</text>
<text x="7" y="1703.1" font-size="41" font-weight="bold">E</text>
<line x1="1515.1" y1="1986.2" x2="1515.1" y2="2007.3" stroke="#000" stroke-width="5.5" />
<rect x="1503.1" y="1983" width="24" height="6.4" fill="#000" />
<line x1="1564.9" y1="1995" x2="1564.9" y2="2023.1" stroke="#000" stroke-width="5.5" />
<rect x="1552.9" y="1991.8" width="24" height="6.4" fill="#000" />
<rect x="1543.6" y="2021.1" width="47.5" height="310.8" fill="#000" />
<rect x="1544.8" y="2026.9" width="40.7" height="305" fill="#c0c0c0" />
<rect x="1488.2" y="2005.3" width="55.4" height="326.6" fill="#000" />
<line x1="1678.7" y1="1890.4" x2="1678.7" y2="1945.4" stroke="#000" stroke-width="5.5" />
<rect x="1666.7" y="1887.2" width="24" height="6.4" fill="#000" />
<line x1="1728.5" y1="1900.2" x2="1728.5" y2="1961.4" stroke="#000" stroke-width="5.5" />
<rect x="1716.5" y="1897" width="24" height="6.4" fill="#000" />
<rect x="1707" y="1959.4" width="48.2" height="372.5" fill="#000" />
<rect x="1708.2" y="1965.2" width="41.4" height="366.7" fill="#c0c0c0" />
<rect x="1651.6" y="1943.4" width="55.4" height="388.5" fill="#000" />
<line x1="1841.9" y1="1986.2" x2="1841.9" y2="2027.2" stroke="#000" stroke-width="5.5" />
<rect x="1829.9" y="1983" width="24" height="6.4" fill="#000" />
<line x1="1891.4" y1="2000.2" x2="1891.4" y2="2029.6" stroke="#000" stroke-width="5.5" />
<rect x="1879.4" y="1997" width="24" height="6.4" fill="#000" />
<rect x="1868.8" y="2027.6" width="49.9" height="304.3" fill="#000" />
<rect x="1870" y="2033.4" width="43.1" height="298.5" fill="#c0c0c0" />
<rect x="1815.4" y="2025.2" width="53.4" height="306.7" fill="#000" />
<line x1="2005.7" y1="1948.3" x2="2005.7" y2="1993.6" stroke="#000" stroke-width="5.5" />
<rect x="1993.7" y="1945.1" width="24" height="6.4" fill="#000" />
<line x1="2055.2" y1="1974.4" x2="2055.2" y2="2017.7" stroke="#000" stroke-width="5.5" />
<rect x="2043.2" y="1971.2" width="24" height="6.4" fill="#000" />
<rect x="2032.4" y="2015.7" width="49.5" height="316.2" fill="#000" />
<rect x="2033.6" y="2021.5" width="42.7" height="310.4" fill="#c0c0c0" />
<rect x="1979" y="1991.6" width="53.4" height="340.3" fill="#000" />
<rect x="1377.5" y="1733.2" width="815.5" height="598.7" fill="none" stroke="#000" stroke-width="5.8"/>
<line x1="1367.6" y1="2331.9" x2="1377.5" y2="2331.9" stroke="#000" stroke-width="5.8" />
<text x="1368.5" y="2343.5" font-size="41.5" text-anchor="end">0.0</text>
<line x1="1367.6" y1="2257.06" x2="1377.5" y2="2257.06" stroke="#000" stroke-width="5.8" />
<text x="1368.5" y="2269.96" font-size="41.5" text-anchor="end">0.2</text>
<line x1="1367.6" y1="2182.22" x2="1377.5" y2="2182.22" stroke="#000" stroke-width="5.8" />
<text x="1368.5" y="2196.42" font-size="41.5" text-anchor="end">0.4</text>
<line x1="1367.6" y1="2107.38" x2="1377.5" y2="2107.38" stroke="#000" stroke-width="5.8" />
<text x="1368.5" y="2122.88" font-size="41.5" text-anchor="end">0.6</text>
<line x1="1367.6" y1="2032.54" x2="1377.5" y2="2032.54" stroke="#000" stroke-width="5.8" />
<text x="1368.5" y="2049.34" font-size="41.5" text-anchor="end">0.8</text>
<line x1="1367.6" y1="1957.7" x2="1377.5" y2="1957.7" stroke="#000" stroke-width="5.8" />
<text x="1368.5" y="1975.8" font-size="41.5" text-anchor="end">1.0</text>
<line x1="1367.6" y1="1882.86" x2="1377.5" y2="1882.86" stroke="#000" stroke-width="5.8" />
<text x="1368.5" y="1902.26" font-size="41.5" text-anchor="end">1.2</text>
<line x1="1367.6" y1="1808.02" x2="1377.5" y2="1808.02" stroke="#000" stroke-width="5.8" />
<text x="1368.5" y="1828.72" font-size="41.5" text-anchor="end">1.4</text>
<text x="1368.5" y="1755.18" font-size="41.5" text-anchor="end">1.6</text>
<line x1="1541.2" y1="2331.9" x2="1541.2" y2="2343.4" stroke="#000" stroke-width="5.5" />
<line x1="1704.4" y1="2331.9" x2="1704.4" y2="2343.4" stroke="#000" stroke-width="5.5" />
<line x1="1866" y1="2331.9" x2="1866" y2="2343.4" stroke="#000" stroke-width="5.5" />
<line x1="2029.1" y1="2331.9" x2="2029.1" y2="2343.4" stroke="#000" stroke-width="5.5" />
<text x="1569.6" y="2373.6" font-size="45.5" text-anchor="end" transform="rotate(-30 1569.6 2373.6)">Control</text>
<text x="1733.9" y="2374.9" font-size="45.5" text-anchor="end" transform="rotate(-30 1733.9 2374.9)">PO+AD</text>
<text x="1908.5" y="2374.2" font-size="45.5" text-anchor="end" transform="rotate(-30 1908.5 2374.2)">PO+AD+AP</text>
<text x="2087.1" y="2373.5" font-size="45.5" text-anchor="end" transform="rotate(-30 2087.1 2373.5)">PO+AD+PT</text>
<text x="1678.5" y="1900" font-size="65" text-anchor="middle" textLength="29.9" lengthAdjust="spacingAndGlyphs">*</text>
<text x="1728.4" y="1908" font-size="65" text-anchor="middle" textLength="29.9" lengthAdjust="spacingAndGlyphs">*</text>
<text x="1844" y="1975.2" font-size="52" text-anchor="middle" textLength="27.4" lengthAdjust="spacingAndGlyphs">#</text>
<text x="1890" y="1991.4" font-size="52" text-anchor="middle" textLength="27.4" lengthAdjust="spacingAndGlyphs">#</text>
<text x="2053.5" y="1967.3" font-size="52" text-anchor="middle" textLength="27.4" lengthAdjust="spacingAndGlyphs">#</text>
<rect x="1985.8" y="1746.9" width="195.4" height="115.1" fill="#fff" stroke="#000" stroke-width="5.7"/>
<rect x="1993.1" y="1768.2" width="77.2" height="27.2" fill="#0a0202" />
<rect x="1993.1" y="1820" width="77.2" height="27.4" fill="#000" />
<rect x="1998.8" y="1825.8" width="63.8" height="13.9" fill="#b9b9b9" />
<text x="2076.5" y="1797.7" font-size="45" textLength="77" lengthAdjust="spacingAndGlyphs">Left</text>
<text x="2076.5" y="1849.2" font-size="45" textLength="95.8" lengthAdjust="spacingAndGlyphs">Right</text>
<text x="0" y="0" font-size="37.4" text-anchor="middle" textLength="562.8" lengthAdjust="spacingAndGlyphs" transform="translate(1286,2033.4) rotate(-90)">Kidney weight (% of Body weight)</text>
<text x="1250" y="1703.1" font-size="41" font-weight="bold">F</text>
<rect x="2243" y="1813" width="3" height="7" fill="#333" />
</svg>
</body></html>
